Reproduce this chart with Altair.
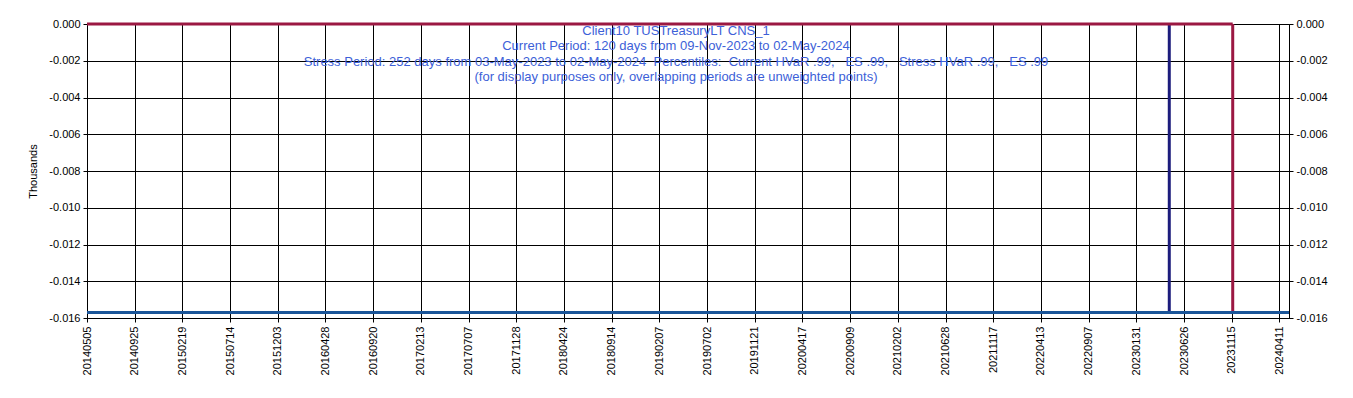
import json
import altair as alt
import pandas as pd

# ---- data ----
tick_labels = [
    "20140505", "20140925", "20150219", "20150714", "20151203", "20160428",
    "20160920", "20170213", "20170707", "20171128", "20180424", "20180914",
    "20190207", "20190702", "20191121", "20200417", "20200909", "20210202",
    "20210628", "20211117", "20220413", "20220907", "20230131", "20230626",
    "20231115", "20240411",
]
days_per_label = 100
total_days = 2520

hist_days = [0, 2520]
hist_values = [-0.0157, -0.0157]

current_days = [0, 2402]
current_values = [0.0, 0.0]

marker_names = ["Stress start", "Current start"]
marker_days = [2269, 2402]
marker_top = [0.0, 0.0]
marker_bottom = [-0.0157, -0.0157]

NB = "\u00a0"
title_lines = [
    "Client10 TUSTreasuryLT CNS_1",
    "Current Period: 120 days from 09-Nov-2023 to 02-May-2024",
    "Stress Period: 252 days from 03-May-2023 to 02-May-2024" + NB * 2 + "Percentiles:"
    + NB * 2 + "Current HVaR .99," + NB * 3 + "ES .99," + NB * 3 + "Stress HVaR .99,"
    + NB * 3 + "ES .99",
    "(for display purposes only, overlapping periods are unweighted points)",
]

y_ticks = [-0.016, -0.014, -0.012, -0.010, -0.008, -0.006, -0.004, -0.002, 0.0]

# ---- tables ----
hist_df = pd.DataFrame({"day": hist_days, "value": hist_values})
cur_df = pd.DataFrame({"day": current_days, "value": current_values})
mark_df = pd.DataFrame({"name": marker_names, "day": marker_days,
                        "top": marker_top, "bottom": marker_bottom})

FONT = "Liberation Sans"
label_js = json.dumps(tick_labels)

x_scale = alt.Scale(domain=[0, total_days], nice=False, zero=False)
y_scale = alt.Scale(domain=[-0.016, 0.0], nice=False, zero=False)

x_axis = alt.Axis(
    values=list(range(0, total_days, days_per_label)),
    labelExpr=f"{label_js}[round(datum.value/{days_per_label})]",
    labelAngle=-90, labelFont=FONT, labelFontSize=11, labelColor="black",
    labelPadding=4, tickSize=4, tickColor="black", domainColor="black",
    grid=True, gridColor="black", gridWidth=1, gridOpacity=1,
    title=None, labelOverlap=False, labelBound=False, labelFlush=False,
)

def y_axis(orient, title):
    kw = dict(
        orient=orient, values=y_ticks,
        labelExpr="replace(format(datum.value, '.3f'), '\u2212', '-')",
        labelFont=FONT, labelFontSize=11, labelColor="black", labelPadding=3,
        tickSize=4, tickColor="black", domainColor="black",
        grid=True, gridColor="black", gridWidth=1, gridOpacity=1,
        labelOverlap=False, labelFlush=False, labelBound=False,
    )
    if title:
        kw.update(title=title, titleFont=FONT, titleFontSize=11,
                  titleFontWeight="normal", titleColor="black", titlePadding=10)
    else:
        kw.update(title=None)
    return alt.Axis(**kw)

left_axis = y_axis("left", "Thousands")

markers = alt.Chart(mark_df).mark_rule(strokeWidth=3).encode(
    x=alt.X("day:Q", scale=x_scale, axis=x_axis),
    y=alt.Y("top:Q", scale=y_scale, axis=left_axis),
    y2="bottom:Q",
    color=alt.Color("name:N", scale=alt.Scale(domain=marker_names,
                                              range=["#1C1C7C", "#9B1842"]),
                    legend=None),
)

current_line = alt.Chart(cur_df).mark_line(color="#9B1842", strokeWidth=3).encode(
    x=alt.X("day:Q", scale=x_scale, axis=x_axis),
    y=alt.Y("value:Q", scale=y_scale, axis=left_axis),
)

hist_line = alt.Chart(hist_df).mark_line(color="#1A5599", strokeWidth=3).encode(
    x=alt.X("day:Q", scale=x_scale, axis=x_axis),
    y=alt.Y("value:Q", scale=y_scale, axis=left_axis),
)

left = alt.layer(markers, current_line, hist_line)

right = alt.Chart(hist_df).mark_line(opacity=0).encode(
    x=alt.X("day:Q", scale=x_scale, axis=x_axis),
    y=alt.Y("value:Q", scale=y_scale, axis=y_axis("right", None)),
)

chart = alt.layer(left, right).resolve_scale(y="independent").properties(
    width=1202,
    height=294,
    autosize=alt.AutoSizeParams(type="none"),
    padding={"left": 79, "top": 16, "right": 50, "bottom": 70},
    title=alt.TitleParams(
        text=title_lines, anchor="middle", frame="group", orient="top",
        font=FONT, fontSize=13, fontWeight="normal", color="#3D5FD8",
        lineHeight=15.3, baseline="top", offset=-66, dx=-12,
    ),
).configure_view(stroke=None).configure(background="white")

chart.save("out.html", embed_options={"renderer": "svg", "actions": False})
